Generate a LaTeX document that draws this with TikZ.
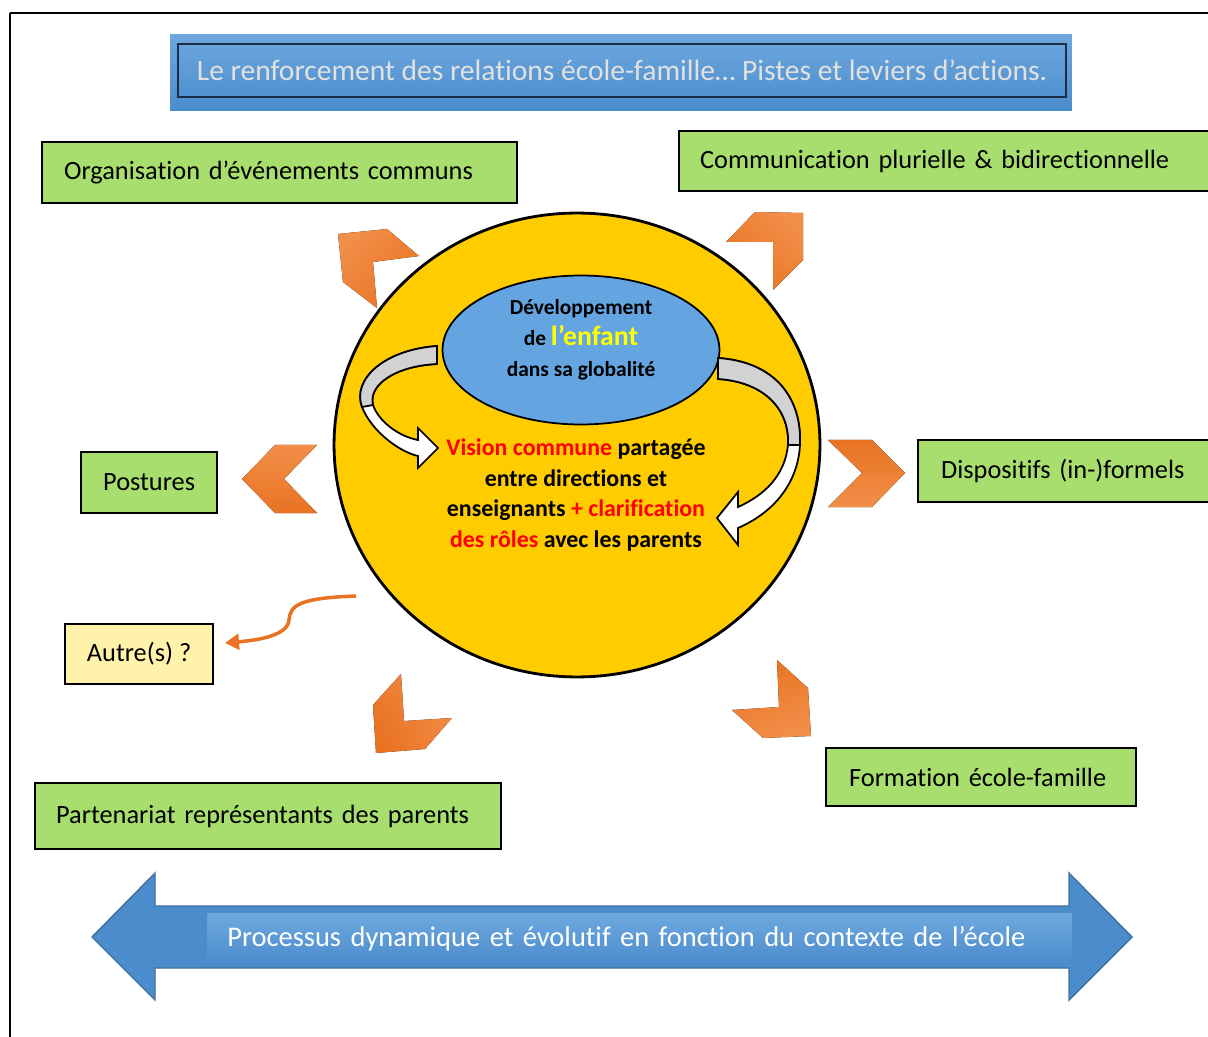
\documentclass[tikz,border=0pt]{standalone}
\usepackage{fontspec}
\setmainfont{Carlito}[Ligatures=NoCommon]
\usepackage{tikz}
\usetikzlibrary{arrows.meta,shapes.geometric,positioning}
\usepackage{xcolor}
\definecolor{dfgreen}{RGB}{168,222,110}
\definecolor{dfcream}{RGB}{255,242,170}
\definecolor{dfgold}{RGB}{255,204,0}
\definecolor{dfblue}{RGB}{75,140,205}
\definecolor{dfbluelight}{RGB}{110,168,222}
\definecolor{dfbluedark}{RGB}{65,113,156}
\definecolor{dfnavy}{RGB}{30,45,70}
\definecolor{dfsky}{RGB}{100,164,224}
\definecolor{dforange}{RGB}{233,115,35}
\definecolor{dforangelight}{RGB}{242,142,72}
\definecolor{dfred}{RGB}{255,0,0}
\definecolor{dfsun}{RGB}{255,255,0}
\definecolor{dfgrey}{RGB}{225,225,225}
\tikzstyle{action} = [rectangle, draw=black, fill=dfgreen, line width=1.3pt, align=left, font=\fontsize{15}{18}\selectfont]
\tikzstyle{chevron} = [top color=dforangelight, bottom color=dforange, draw=none]
\tikzstyle{turn} = [draw=black, line width=1pt, fill=white]
\tikzstyle{turnback} = [draw=black, line width=1pt, fill=gray!35]
\tikzstyle{orangearrow} = [line width=2pt, color=dforange, -{Triangle[length=8pt,width=9pt]}]

\begin{document}
\begin{tikzpicture}[x=0.02cm, y=-0.02cm]
\useasboundingbox (0,0) rectangle (1208,1037);
% Frame
\draw[line width=1.6pt] (10,13) -- (1208,13);
\draw[line width=1.1pt] (10,13) -- (10,1037);

% Title
\node (titleband) [rectangle, top color=dfbluelight, bottom color=dfblue, minimum width=18.04cm, minimum height=1.54cm] at (621,72.5) {};
\node (title) [rectangle, draw=dfnavy, line width=0.9pt, minimum width=17.76cm, minimum height=1.06cm, font=\fontsize{16.8}{19}\selectfont, text=dfgrey] at (622,70.5) {Le renforcement des relations école-famille\dots{} Pistes et leviers d’actions.};

% Central circle and ellipse
\node (globe) [ellipse, draw=black, line width=1.6pt, fill=dfgold, minimum width=9.72cm, minimum height=9.28cm] at (577,445) {};
\node (enfant) [ellipse, draw=black, line width=1pt, fill=dfsky, minimum width=5.54cm, minimum height=2.98cm] at (581,350) {};
\node (enfanttxt) [font=\bfseries\fontsize{12.2}{17.6}\selectfont, align=center] at (581,340) {Développement\\de {\fontsize{15.8}{17.6}\selectfont\textcolor{dfsun}{l’enfant}}\\dans sa globalité};
\node (vision) [font=\bfseries\fontsize{13.6}{17.6}\selectfont, align=center] at (576,495) {\textcolor{dfred}{Vision commune} partagée\\entre directions et\\enseignants \textcolor{dfred}{+ clarification}\\\textcolor{dfred}{des rôles} avec les parents};

% Turning arrows
\draw[turn] (437,346) .. controls (383,350) and (352,380) .. (362,407) .. controls (372,432) and (400,452) .. (418,456) -- (418,468) -- (438,448) -- (418,428) -- (418,440) .. controls (397,436) and (378,420) .. (373,405) .. controls (368,385) and (395,366) .. (437,364) -- cycle;
\draw[turnback] (437,346) .. controls (383,350) and (352,380) .. (362,407) -- (373,405) .. controls (368,385) and (395,366) .. (437,364) -- cycle;
\draw[turn] (718,358) .. controls (777,362) and (802,400) .. (800,445) .. controls (798,482) and (775,512) .. (738,528) -- (738,545) -- (717,518) -- (738,492) -- (738,507) .. controls (765,495) and (785,475) .. (788,445) .. controls (790,410) and (765,382) .. (718,379) -- cycle;
\draw[turnback] (718,358) .. controls (777,362) and (802,400) .. (800,445) -- (788,445) .. controls (790,410) and (765,382) .. (718,379) -- cycle;

% Actions
\node (events) [action, anchor=north west, inner xsep=0.44cm, text width=8.62cm, minimum height=1.22cm] at (41,141) {Organisation d’événements communs};
\node (comm) [action, anchor=north west, inner xsep=0.42cm, text width=10.0cm, minimum height=1.2cm] at (678,130) {Communication plurielle \& bidirectionnelle};
\node (postures) [action, anchor=north west, align=center, minimum width=2.72cm, minimum height=1.22cm] at (80,451) {Postures};
\node (dispositifs) [action, anchor=north west, inner xsep=0.46cm, text width=5.04cm, minimum height=1.24cm] at (917,439) {Dispositifs (in-)formels};
\node (formation) [action, anchor=north west, inner xsep=0.46cm, text width=5.28cm, minimum height=1.16cm] at (825,747) {Formation école-famille};
\node (partenariat) [action, anchor=north west, inner xsep=0.42cm, text width=8.48cm, minimum height=1.32cm] at (34,782) {Partenariat représentants des parents};
\node (autre) [action, fill=dfcream, anchor=north west, align=center, minimum width=2.96cm, minimum height=1.2cm] at (64,623) {Autre(s) ?};

% Chevrons
\fill[chevron, shading angle=45] (338,234) -- (387,229) -- (419,256) -- (373,262) -- (377,308) -- (343,282) -- cycle;
\fill[chevron, shading angle=-45] (803,213) -- (803,260) -- (773,290) -- (773,242) -- (726,242) -- (755,212) -- cycle;
\fill[chevron] (242,479) -- (275,445) -- (317,445) -- (284,479) -- (317,513) -- (275,513) -- cycle;
\fill[chevron, shading angle=180] (905,473) -- (872,440) -- (828,440) -- (862,473) -- (828,507) -- (872,507) -- cycle;
\fill[chevron, shading angle=-60] (376,753) -- (373,705) -- (401,674) -- (404,721) -- (452,718) -- (425,749) -- cycle;
\fill[chevron, shading angle=200] (811,736) -- (808,688) -- (777,660) -- (779,707) -- (732,710) -- (763,738) -- cycle;

% Other
\coordinate (autrefrom) at (356,596);
\coordinate (autretip) at (225,643);
\draw[orangearrow] (autrefrom) .. controls (300,598) and (290,605) .. (289,620) .. controls (288,635) and (260,640) .. (autretip);

% Process arrow
\draw[fill=dfblue, draw=dfbluedark, line width=0.8pt] (92,937) -- (155,873) -- (155,906) -- (1069,906) -- (1069,873) -- (1132,937) -- (1069,1000) -- (1069,968) -- (155,968) -- (155,1000) -- cycle;
\node (processus) [rectangle, top color=dfbluelight, bottom color=dfblue, anchor=north west, inner xsep=0.4cm, text width=16.5cm, minimum height=1.02cm, align=left, text=white, font=\fontsize{16.2}{19}\selectfont] at (207,913) {Processus dynamique et évolutif en fonction du contexte de l’école};
\end{tikzpicture}
\end{document}
